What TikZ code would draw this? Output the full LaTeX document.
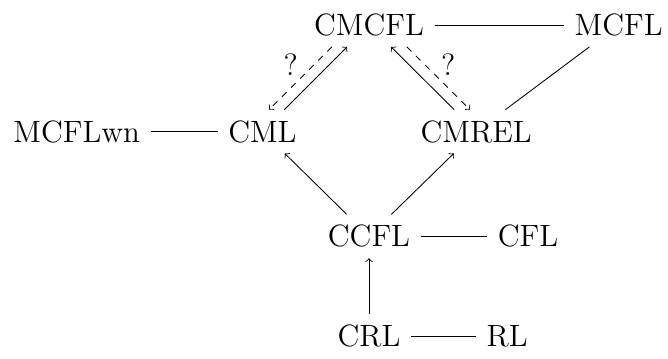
\documentclass[tikz,border=0pt]{standalone}
\usepackage{amsmath}
\usepackage{tikz}
\usetikzlibrary{calc}

\begin{document}
\begin{tikzpicture}\Large
            \useasboundingbox (0,0) rectangle (10.97,-5.88);

            \node (cmcfl)  at (6.06,-0.41)  {CMCFL};
            \node (mcfl)   at (10.16,-0.41) {MCFL};
            \node (mcflwn) at (1.26,-2.16)  {MCFLwn};
            \node (cml)    at (4.31,-2.16)  {CML};
            \node (cmrel)  at (7.82,-2.16)  {CMREL};
            \node (ccfl)   at (6.06,-3.88)  {CCFL};
            \node (cfl)    at (8.67,-3.88)  {CFL};
            \node (crl)    at (6.06,-5.52)  {CRL};
            \node (rl)     at (8.33,-5.52)  {RL};

            \draw (cmcfl) -- (mcfl);
            \draw (mcflwn) -- (cml);
            \draw (ccfl) -- (cfl);
            \draw (crl) -- (rl);
            \draw (mcfl) -- (cmrel);

            \draw[->](cml)--(cmcfl);
            \draw[->,dashed,transform canvas={xshift=-0.25cm}](cmcfl)--node[above left,inner sep=1pt]{?}(cml);
            \draw[->](cmrel)--(cmcfl);
            \draw[->,dashed,transform canvas={xshift=0.26cm}](cmcfl)--node[above right,inner sep=1pt]{?}(cmrel);

            \draw[->](ccfl)--(cml);
            \draw[->](ccfl)--(cmrel);
            \draw[->](crl)--(ccfl);

        \end{tikzpicture}
\end{document}
